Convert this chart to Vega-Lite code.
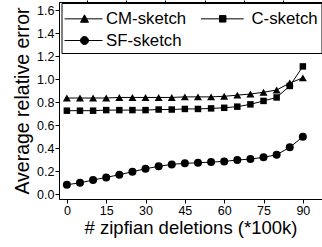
{
  "$schema": "https://vega.github.io/schema/vega-lite/v6.json",
  "width": 263,
  "height": 197,
  "autosize": {"type": "none"},
  "padding": {"left": 59, "top": 2, "right": 0, "bottom": 48},
  "background": "white",
  "config": {
    "view": {"stroke": "black", "strokeWidth": 1},
    "font": "Liberation Sans",
    "legend": {"strokeColor": "black", "fillColor": "white", "strokeWidth": 1},
    "axis": {
      "domainColor": "black", "tickColor": "black", "labelColor": "black", "titleColor": "black",
      "labelFont": "Liberation Sans", "titleFont": "Liberation Sans", "labelFontSize": 12.5,
      "titleFontWeight": "normal", "grid": false, "tickSize": 4, "labelPadding": 1
    }
  },
  "resolve": {"axis": {"x": "independent", "y": "independent"}},
  "data": {
    "values": [
      {"x": 0, "series": "CM-sketch", "y": 0.835}, {"x": 5, "series": "CM-sketch", "y": 0.835},
      {"x": 10, "series": "CM-sketch", "y": 0.835}, {"x": 15, "series": "CM-sketch", "y": 0.835},
      {"x": 20, "series": "CM-sketch", "y": 0.84}, {"x": 25, "series": "CM-sketch", "y": 0.84},
      {"x": 30, "series": "CM-sketch", "y": 0.84}, {"x": 35, "series": "CM-sketch", "y": 0.84},
      {"x": 40, "series": "CM-sketch", "y": 0.84}, {"x": 45, "series": "CM-sketch", "y": 0.845},
      {"x": 50, "series": "CM-sketch", "y": 0.845}, {"x": 55, "series": "CM-sketch", "y": 0.845},
      {"x": 60, "series": "CM-sketch", "y": 0.85}, {"x": 65, "series": "CM-sketch", "y": 0.86},
      {"x": 70, "series": "CM-sketch", "y": 0.87}, {"x": 75, "series": "CM-sketch", "y": 0.885},
      {"x": 80, "series": "CM-sketch", "y": 0.905}, {"x": 85, "series": "CM-sketch", "y": 0.965},
      {"x": 90, "series": "CM-sketch", "y": 1.01},
      {"x": 0, "series": "C-sketch", "y": 0.725}, {"x": 5, "series": "C-sketch", "y": 0.725},
      {"x": 10, "series": "C-sketch", "y": 0.725}, {"x": 15, "series": "C-sketch", "y": 0.73},
      {"x": 20, "series": "C-sketch", "y": 0.73}, {"x": 25, "series": "C-sketch", "y": 0.73},
      {"x": 30, "series": "C-sketch", "y": 0.73}, {"x": 35, "series": "C-sketch", "y": 0.735},
      {"x": 40, "series": "C-sketch", "y": 0.735}, {"x": 45, "series": "C-sketch", "y": 0.74},
      {"x": 50, "series": "C-sketch", "y": 0.74}, {"x": 55, "series": "C-sketch", "y": 0.745},
      {"x": 60, "series": "C-sketch", "y": 0.75}, {"x": 65, "series": "C-sketch", "y": 0.76},
      {"x": 70, "series": "C-sketch", "y": 0.78}, {"x": 75, "series": "C-sketch", "y": 0.81},
      {"x": 80, "series": "C-sketch", "y": 0.84}, {"x": 85, "series": "C-sketch", "y": 0.94},
      {"x": 90, "series": "C-sketch", "y": 1.11},
      {"x": 0, "series": "SF-sketch", "y": 0.081}, {"x": 5, "series": "SF-sketch", "y": 0.098},
      {"x": 10, "series": "SF-sketch", "y": 0.122}, {"x": 15, "series": "SF-sketch", "y": 0.145},
      {"x": 20, "series": "SF-sketch", "y": 0.168}, {"x": 25, "series": "SF-sketch", "y": 0.194},
      {"x": 30, "series": "SF-sketch", "y": 0.22}, {"x": 35, "series": "SF-sketch", "y": 0.241},
      {"x": 40, "series": "SF-sketch", "y": 0.258}, {"x": 45, "series": "SF-sketch", "y": 0.267},
      {"x": 50, "series": "SF-sketch", "y": 0.272}, {"x": 55, "series": "SF-sketch", "y": 0.278},
      {"x": 60, "series": "SF-sketch", "y": 0.284}, {"x": 65, "series": "SF-sketch", "y": 0.296},
      {"x": 70, "series": "SF-sketch", "y": 0.304}, {"x": 75, "series": "SF-sketch", "y": 0.319},
      {"x": 80, "series": "SF-sketch", "y": 0.342}, {"x": 85, "series": "SF-sketch", "y": 0.406},
      {"x": 90, "series": "SF-sketch", "y": 0.498}
    ]
  },
  "layer": [
    {
      "mark": {"type": "line", "strokeWidth": 1},
      "encoding": {
        "x": {
          "field": "x", "type": "quantitative",
          "scale": {"domain": [-3, 97.3], "nice": false, "zero": false},
          "axis": {"values": [0, 15, 30, 45, 60, 75, 90], "title": "# zipfian deletions (*100k)", "titleFontSize": 18.5, "titlePadding": 2}
        },
        "y": {
          "field": "y", "type": "quantitative",
          "scale": {"domain": [-0.043, 1.67], "nice": false, "zero": false},
          "axis": {"values": [0, 0.2, 0.4, 0.6, 0.8, 1.0, 1.2, 1.4, 1.6], "format": ".1f", "title": "Average relative error", "titleFontSize": 19.5, "titlePadding": 4}
        },
        "color": {
          "field": "series", "type": "nominal",
          "scale": {"domain": ["CM-sketch", "C-sketch", "SF-sketch"], "range": ["black", "black", "black"]},
          "legend": {
            "title": null, "orient": "none", "legendX": 2.5, "legendY": 1, "direction": "horizontal", "columns": 2,
            "strokeColor": "black", "fillColor": "white", "padding": 3, "columnPadding": 12.5, "rowPadding": -1,
            "labelFont": "Liberation Sans", "labelFontSize": 16.8, "labelColor": "black", "labelOffset": 16.5,
            "symbolSize": 576, "symbolStrokeWidth": 1, "symbolStrokeColor": "black", "symbolFillColor": "black",
            "labelExpr": "datum.label == 'C-sketch' ? 'C-sketch   ' : datum.label",
            "encode": {
              "symbols": {
                "update": {
                  "shape": {"signal": "datum.value == 'CM-sketch' ? 'M-1.04,0H2.125M0.625,-0.333L0.958,0.283L0.292,0.283Z' : datum.value == 'C-sketch' ? 'M-1.79,0H1.767M-0.253,-0.27H0.287V0.27H-0.253Z' : 'M-1.04,0H2.125M0.958,0A0.333,0.333,0,1,1,0.292,0A0.333,0.333,0,1,1,0.958,0Z'"},
                  "fill": {"value": "black"},
                  "stroke": {"value": "black"},
                  "strokeWidth": {"value": 1},
                  "opacity": {"value": 1}
                }
              }
            }
          }
        }
      }
    },
    {
      "transform": [{"filter": "datum.series == 'CM-sketch'"}],
      "mark": {"type": "point", "filled": true, "opacity": 1, "color": "black", "shape": "triangle-up", "size": 64},
      "encoding": {
        "x": {"field": "x", "type": "quantitative",
          "axis": {"values": [7.5, 22.5, 37.5, 52.5, 67.5, 82.5], "labels": false, "domain": false, "tickSize": 2, "title": null}},
        "y": {"field": "y", "type": "quantitative",
          "axis": {"values": [0.1, 0.3, 0.5, 0.7, 0.9, 1.1, 1.3, 1.5], "labels": false, "domain": false, "tickSize": 2, "title": null}}
      }
    },
    {
      "transform": [{"filter": "datum.series == 'C-sketch'"}],
      "mark": {"type": "point", "filled": true, "opacity": 1, "color": "black", "shape": "square", "size": 42},
      "encoding": {
        "x": {"field": "x", "type": "quantitative",
          "axis": {"orient": "top", "values": [0, 15, 30, 45, 60, 75, 90], "labels": false, "domain": false, "tickSize": -3, "title": null}},
        "y": {"field": "y", "type": "quantitative", "axis": null}
      }
    },
    {
      "transform": [{"filter": "datum.series == 'SF-sketch'"}],
      "mark": {"type": "point", "filled": true, "opacity": 1, "color": "black", "shape": "circle", "size": 64},
      "encoding": {
        "x": {"field": "x", "type": "quantitative", "axis": null},
        "y": {"field": "y", "type": "quantitative", "axis": null}
      }
    }
  ]
}
